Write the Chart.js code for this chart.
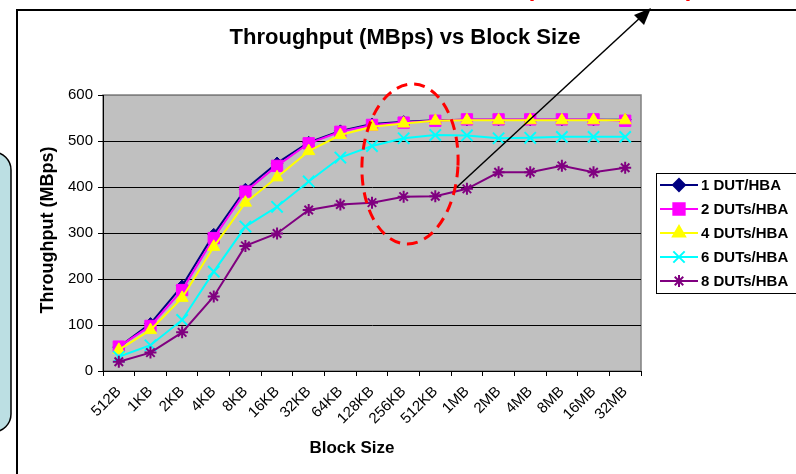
<!DOCTYPE html>
<html>
<head>
<meta charset="utf-8">
<title>Throughput (MBps) vs Block Size</title>
<script src="https://cdn.jsdelivr.net/npm/chart.js@4/dist/chart.umd.min.js"></script>
<style>
    html, body { margin: 0; padding: 0; background: #ffffff; }
    #chart-wrap { width: 796px; height: 474px; }
</style>
</head>
<body>
<div id="chart-wrap"><canvas id="throughput-chart" width="796" height="474"></canvas></div>
<script>
const blockSizes = ['512B', '1KB', '2KB', '4KB', '8KB', '16KB', '32KB', '64KB', '128KB', '256KB', '512KB', '1MB', '2MB', '4MB', '8MB', '16MB', '32MB'];

const oneDut   = [52, 103, 185, 297, 395, 452, 497, 522, 537, 542, 545, 546, 546, 546, 546, 546, 546];
const twoDuts  = [53, 98, 176, 289, 390, 446, 495, 520, 535, 540, 544, 547, 547, 547, 547, 547, 544];
const fourDuts = [46, 89, 159, 270, 366, 421, 478, 513, 531, 538, 544, 545, 545, 545, 545, 545, 545];
const sixDuts  = [31, 56, 111, 216, 314, 357, 412, 464, 489, 506, 513, 512, 506, 507, 509, 509, 509];
const eightDuts = [20, 40, 84, 162, 272, 299, 350, 362, 366, 379, 380, 396, 432, 432, 446, 432, 442];

const seriesLabels = ['1 DUT/HBA', '2 DUTs/HBA', '4 DUTs/HBA', '6 DUTs/HBA', '8 DUTs/HBA'];
const seriesColors = ['#000080', '#ff00ff', '#ffff00', '#00ffff', '#800080'];
const seriesMarkers = ['rectRot', 'rect', 'triangle', 'crossRot', 'star'];
const seriesMarkerSizes = [6, 8, 7, 8, 6];

const yMin = 0;
const yMax = 600;
const yStep = 100;

const chartTitle = 'Throughput (MBps) vs Block Size';
const xTitle = 'Block Size';
const yTitle = 'Throughput (MBps)';

const FONT = '"Liberation Sans", Arial, sans-serif';

function makeDataset(i, values) {
    return {
        label: seriesLabels[i],
        data: values,
        borderColor: seriesColors[i],
        backgroundColor: seriesColors[i],
        pointBackgroundColor: seriesColors[i],
        pointBorderColor: seriesColors[i],
        pointStyle: seriesMarkers[i],
        pointRadius: seriesMarkerSizes[i],
        pointBorderWidth: (seriesMarkers[i] === 'crossRot' || seriesMarkers[i] === 'star') ? 2 : 1,
        borderWidth: 2,
        tension: 0,
        fill: false,
        order: 5 - i
    };
}

// slide bits around the chart + plot background
const decorPlugin = {
    id: 'decor',
    beforeDraw(chart) {
        const ctx = chart.ctx;
        const a = chart.chartArea;
        ctx.save();
        ctx.fillStyle = '#ffffff';
        ctx.fillRect(0, 0, chart.width, chart.height);

        // callout box cut off on the left
        ctx.beginPath();
        ctx.roundRect(-60, 152, 71, 280, 18);
        ctx.fillStyle = '#bcdfe3';
        ctx.fill();
        ctx.lineWidth = 1.5;
        ctx.strokeStyle = '#000000';
        ctx.stroke();

        // chart frame
        ctx.lineWidth = 2;
        ctx.strokeRect(17, 10, chart.width + 20, chart.height + 20);

        // red heading cut off at the top
        ctx.fillStyle = '#ff0000';
        ctx.font = 'bold 24px ' + FONT;
        ctx.textBaseline = 'alphabetic';
        ctx.textAlign = 'left';
        ctx.fillText('(', 526, -4);
        ctx.fillText(')', 686, -4);

        // plot area
        ctx.fillStyle = '#c0c0c0';
        ctx.fillRect(a.left, a.top, a.right - a.left, a.bottom - a.top);
        ctx.strokeStyle = '#808080';
        ctx.lineWidth = 1.5;
        ctx.strokeRect(a.left, a.top, a.right - a.left, a.bottom - a.top);

        // titles
        ctx.fillStyle = '#000000';
        ctx.textAlign = 'center';
        ctx.textBaseline = 'middle';
        ctx.font = 'bold 22px ' + FONT;
        ctx.fillText(chartTitle, 405, 38);
        ctx.font = 'bold 17px ' + FONT;
        ctx.fillText(xTitle, 352, 448);
        ctx.font = 'bold 18px ' + FONT;
        ctx.translate(48, 230);
        ctx.rotate(-Math.PI / 2);
        ctx.fillText(yTitle, 0, 0);
        ctx.restore();
    },
    afterDraw(chart) {
        const ctx = chart.ctx;
        ctx.save();

        // legend
        ctx.fillStyle = '#ffffff';
        ctx.fillRect(656, 173, 150, 120);
        ctx.strokeStyle = '#000000';
        ctx.lineWidth = 1;
        ctx.strokeRect(656.5, 173.5, 150, 120);
        ctx.font = 'bold 15px ' + FONT;
        ctx.textAlign = 'left';
        ctx.textBaseline = 'middle';
        chart.data.datasets.forEach((ds, i) => {
            const y = 185 + i * 24;
            ctx.strokeStyle = ds.borderColor;
            ctx.fillStyle = ds.borderColor;
            ctx.lineWidth = 2;
            ctx.beginPath();
            ctx.moveTo(660, y);
            ctx.lineTo(698, y);
            ctx.stroke();
            Chart.helpers.drawPoint(ctx, {
                pointStyle: ds.pointStyle,
                radius: ds.pointRadius,
                rotation: 0,
                borderWidth: ds.pointBorderWidth
            }, 679, y);
            ctx.fillStyle = '#000000';
            ctx.fillText(ds.label, 701, y + 1);
        });

        // red dashed ring + arrow
        ctx.strokeStyle = '#ff0000';
        ctx.lineWidth = 3;
        ctx.setLineDash([11, 7]);
        ctx.beginPath();
        ctx.ellipse(410, 164, 48, 80, 0.05, 0, Math.PI * 2);
        ctx.stroke();
        ctx.setLineDash([]);

        ctx.strokeStyle = '#000000';
        ctx.fillStyle = '#000000';
        ctx.lineWidth = 1.5;
        ctx.beginPath();
        ctx.moveTo(457, 187);
        ctx.lineTo(642, 16);
        ctx.stroke();
        ctx.beginPath();
        ctx.moveTo(651, 8);
        ctx.lineTo(634, 15);
        ctx.lineTo(644, 25);
        ctx.closePath();
        ctx.fill();
        ctx.restore();
    }
};

const ctx = document.getElementById('throughput-chart').getContext('2d');
const throughputChart = new Chart(ctx, {
    type: 'line',
    data: {
        labels: blockSizes,
        datasets: [
            makeDataset(0, oneDut),
            makeDataset(1, twoDuts),
            makeDataset(2, fourDuts),
            makeDataset(3, sixDuts),
            makeDataset(4, eightDuts)
        ]
    },
    options: {
        responsive: false,
        animation: false,
        devicePixelRatio: 1,
        layout: {
            padding: { left: 0, top: 95, right: 155, bottom: 0 }
        },
        plugins: {
            legend: { display: false },
            title: { display: false },
            tooltip: { enabled: false }
        },
        scales: {
            x: {
                type: 'category',
                offset: true,
                grid: {
                    offset: true,
                    drawOnChartArea: false,
                    drawTicks: true,
                    tickLength: 5,
                    tickColor: '#000000'
                },
                border: { color: '#000000', width: 1 },
                ticks: {
                    autoSkip: false,
                    minRotation: 45,
                    maxRotation: 45,
                    padding: 7,
                    color: '#000000',
                    font: { family: FONT, size: 15 }
                },
                afterFit: (scale) => { scale.height = 103; }
            },
            y: {
                min: yMin,
                max: yMax,
                grid: {
                    color: (c) => (c.tick && c.tick.value === yMax) ? '#808080' : '#000000',
                    tickColor: '#000000',
                    tickLength: 5,
                    lineWidth: 1
                },
                border: { color: '#000000', width: 1 },
                ticks: {
                    stepSize: yStep,
                    padding: 5,
                    color: '#000000',
                    font: { family: FONT, size: 15 }
                },
                afterFit: (scale) => { scale.width = 103; }
            }
        }
    },
    plugins: [decorPlugin]
});
</script>
</body>
</html>
